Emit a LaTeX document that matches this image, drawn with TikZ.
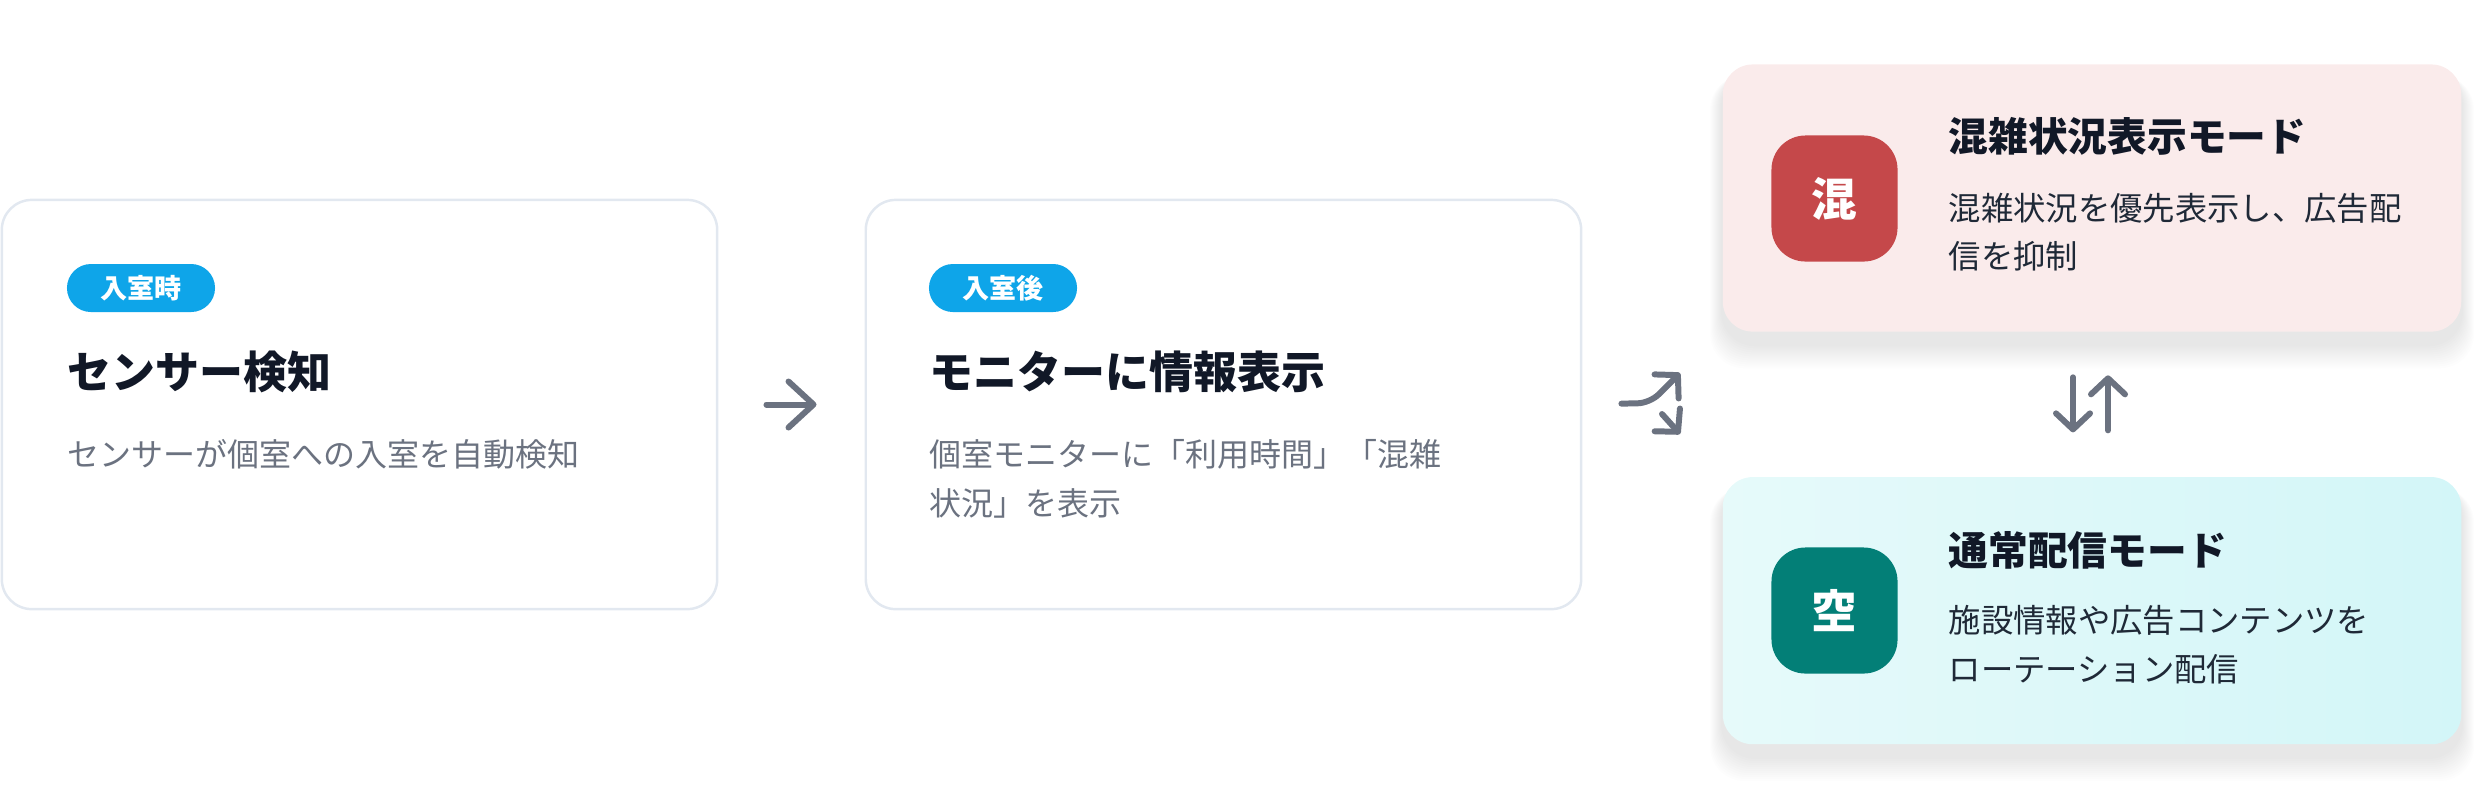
\documentclass[tikz,border=0pt]{standalone}
\usepackage{fontspec}
\setmainfont{Noto Sans CJK JP}
\usetikzlibrary{arrows.meta,positioning,backgrounds}

\definecolor{cardline}{HTML}{E2E8F0}
\definecolor{inktitle}{HTML}{111827}
\definecolor{inkgray}{HTML}{6B7280}
\definecolor{inkbody}{HTML}{1F2937}
\definecolor{tagblue}{HTML}{0EA5E9}
\definecolor{busybg}{HTML}{FAEBEB}
\definecolor{busyred}{HTML}{C5484A}
\definecolor{idlebgA}{HTML}{E6FAFA}
\definecolor{idlebgB}{HTML}{D3F6F8}
\definecolor{idleteal}{HTML}{037F77}
\definecolor{arrowgray}{HTML}{6B7280}

\begin{document}
\begin{tikzpicture}[
        x=0.01cm, y=-0.01cm,
        card/.style={draw=cardline, line width=0.7pt, fill=white, rounded corners=0.3cm,
            minimum width=7.15cm, minimum height=4.09cm},
        modecard/.style={rounded corners=0.3cm, minimum width=7.38cm, minimum height=2.67cm},
        modeicon/.style={rounded corners=0.34cm, minimum width=1.26cm, minimum height=1.26cm,
            text=white, font=\fontsize{13}{15}\selectfont\bfseries},
        tag/.style={fill=tagblue, text=white, rounded corners=0.24cm, minimum width=1.48cm,
            minimum height=0.48cm, inner sep=0pt, font=\fontsize{7.7}{9}\selectfont\bfseries},
        headline/.style={anchor=west, inner sep=0pt, text=inktitle,
            font=\fontsize{12.5}{15}\selectfont\bfseries},
        modehead/.style={anchor=west, inner sep=0pt, text=inktitle,
            font=\fontsize{11.3}{14}\selectfont\bfseries},
        blurb/.style={anchor=north west, inner sep=0pt, align=left, text=inkgray,
            font=\fontsize{9.1}{13.9}\selectfont},
        modeblurb/.style={anchor=north west, inner sep=0pt, align=left, text=inkbody,
            font=\fontsize{9.2}{13.9}\selectfont},
        flow/.style={draw=arrowgray, line width=1.7pt, line cap=round, line join=round,
            -{Straight Barb[length=0.16cm, width=0.34cm, round]}}
    ]
        \useasboundingbox (0,0) rectangle (2485,808);

        % 左の2枚のカード
        \node[card] (sense) at (359.5,404.5) {};
        \node[card, right=1.46cm of sense] (monitor) {};

        \node[tag] (tag1) at (141,288) {入室時};
        \node[headline] (head1) at (67,372) {センサー検知};
        \node[blurb] (text1) at (67,439) {センサーが個室への入室を自動検知};

        \node[tag] (tag2) at (1003,288) {入室後};
        \node[headline] (head2) at (929,372) {モニターに情報表示};
        \node[blurb] (text2) at (929,439) {個室モニターに「利用時間」「混雑\\状況」を表示};

        % 右のモード
        \node[modecard, fill=busybg] (busy) at (2092,198) {};
        \node[modecard, left color=idlebgA, right color=idlebgB, below=1.44cm of busy] (idle) {};

        \node[modeicon, fill=busyred] (busyicon) at (1834.5,198.5) {混};
        \node[modehead] (busyhead) at (1948,136) {混雑状況表示モード};
        \node[modeblurb] (busytext) at (1948,192) {混雑状況を優先表示し、広告配\\信を抑制};

        \node[modeicon, fill=idleteal] (idleicon) at (1834.5,610.5) {空};
        \node[modehead] (idlehead) at (1948,550) {通常配信モード};
        \node[modeblurb] (idletext) at (1948,605) {施設情報や広告コンテンツを\\ローテーション配信};

        % 影
        \begin{scope}[on background layer]
            \foreach \m in {busy,idle}
                \foreach \k in {1,...,12}
                    \fill[black, opacity=0.0065, rounded corners=0.34cm]
                        ([shift={(-\k,8+0.3*\k)}]\m.north west) rectangle ([shift={(\k,12+2*\k)}]\m.south east);
            \foreach \m in {busyicon,idleicon}
                \foreach \k in {1,...,7}
                    \fill[black, opacity=0.016, rounded corners=0.36cm]
                        ([shift={(-0.6*\k,6)}]\m.north west) rectangle ([shift={(0.6*\k,3+1.6*\k)}]\m.south east);
        \end{scope}

        % 矢印
        \coordinate (fork) at (1650,403);
        \coordinate (upend) at (1680,373);
        \coordinate (downstart) at (1662,414);
        \coordinate (downend) at (1680,434);

        \draw[flow, -{Straight Barb[length=0.25cm, width=0.46cm, round]},
            shorten <=0.48cm, shorten >=0.48cm] (sense.east) -- (monitor.west);
        \draw[flow, shorten <=0.39cm, rounded corners=0.12cm] (monitor.east) -- (fork) -- (upend);
        \draw[flow] (downstart) -- (downend);
        \draw[flow, shorten <=0.45cm, shorten >=0.44cm]
            ([xshift=-0.19cm]busy.south) -- ([xshift=-0.19cm]idle.north);
        \draw[flow, shorten <=0.46cm, shorten >=0.43cm]
            ([xshift=0.16cm]idle.north) -- ([xshift=0.16cm]busy.south);
    \end{tikzpicture}
\end{document}
